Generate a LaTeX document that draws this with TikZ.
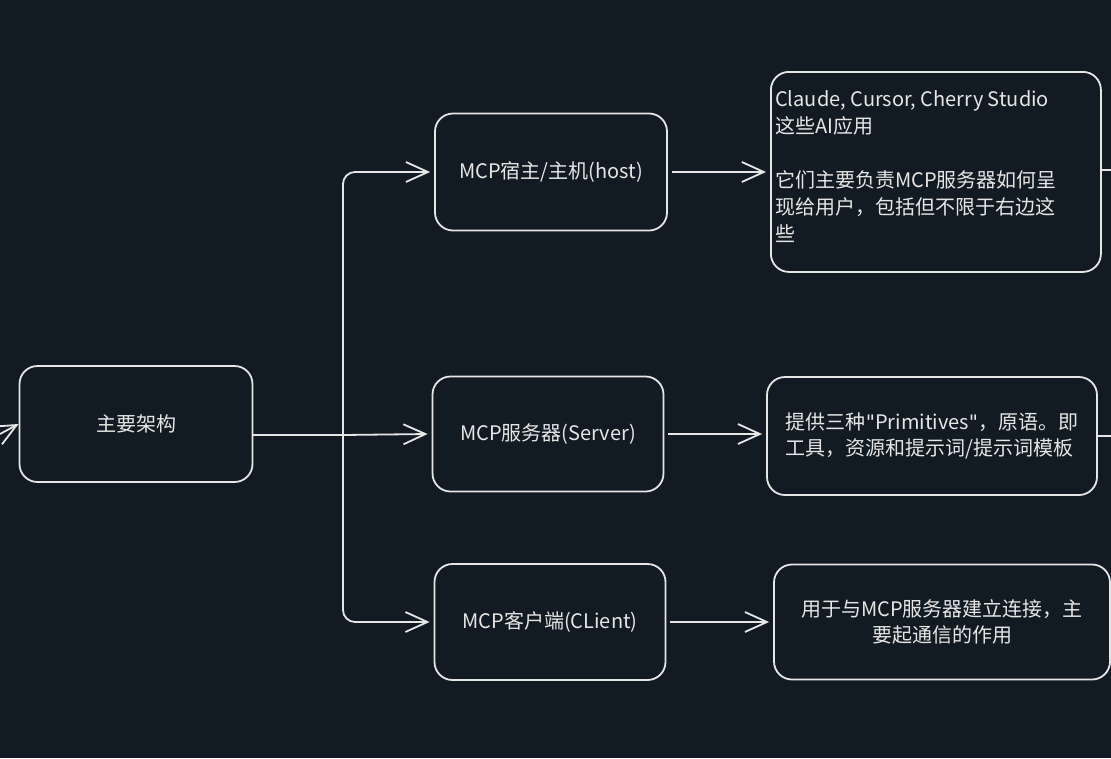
\documentclass[tikz,border=0pt]{standalone}
\usepackage{fontspec}
\setmainfont{Noto Sans CJK SC}
\newfontfamily\quotefont{DejaVu Sans}
\usetikzlibrary{arrows.meta}
\definecolor{bg}{HTML}{121B24}
\definecolor{ln}{HTML}{E6E6E6}
\tikzset{
  box/.style={draw=ln,line width=1.8pt,rounded corners=18pt,text=ln,font=\fontsize{20}{26}\selectfont},
  conn/.style={draw=ln,line width=1.8pt,-{Straight Barb[length=22pt,width=20pt,line width=1.8pt]}},
  plain/.style={draw=ln,line width=1.8pt}
}
\begin{document}
\begin{tikzpicture}[x=1pt,y=-1pt]
\fill[bg] (0,0) rectangle (1111,758);
\useasboundingbox (0,0) rectangle (1111,758);
\node[box,minimum width=233pt,minimum height=116pt] (main) at (136,424) {主要架构};
\node[box,minimum width=232pt,minimum height=117pt] (host) at (551,172) {MCP宿主/主机(host)};
\node[box,minimum width=231pt,minimum height=115pt] (srv) at (548,434) {MCP服务器(Server)};
\node[box,minimum width=231pt,minimum height=116pt] (cli) at (550,622) {MCP客户端(CLient)};
\node[box,minimum width=330pt,minimum height=200pt,anchor=north west,inner sep=0pt] (t1) at (770,71) {};
\node[text=ln,font=\fontsize{20}{27}\selectfont,align=left,anchor=north west,inner sep=0pt] (t1txt) at (775,90) {Claude, Cursor, Cherry Studio\\这些AI应用\\[27pt]它们主要负责MCP服务器如何呈\\现给用户，包括但不限于右边这\\些};
\node[box,minimum width=330pt,minimum height=118pt,align=left,inner sep=2pt] (t2) at (932,436) {提供三种{\quotefont\symbol{34}}Primitives{\quotefont\symbol{34}}，原语。即\\工具，资源和提示词/提示词模板};
\node[box,minimum width=336pt,minimum height=115pt,align=center] (t3) at (942,622) {用于与MCP服务器建立连接，主\\要起通信的作用};
\coordinate (lin) at (0,434);
\coordinate (j) at (343,435);
\coordinate (r1) at (1111,170);
\coordinate (r2) at (1111,436);
\coordinate (r3) at (1111,620);
\draw[conn] (lin) -- (main.west);
\draw[plain] (main.east |- j) -- (j);
\draw[conn,rounded corners=12pt] (j) -- (j |- host) -- ([xshift=-4pt]host.west);
\draw[conn] (j) -- ([xshift=-4pt]srv.west);
\draw[conn,rounded corners=12pt] (j) -- (j |- cli) -- ([xshift=-4pt]cli.west);
\draw[conn] ([xshift=4pt]host.east) -- ([xshift=-4pt]t1.west |- host);
\draw[conn] ([xshift=4pt]srv.east) -- ([xshift=-4pt]t2.west |- srv);
\draw[conn] ([xshift=4pt]cli.east) -- ([xshift=-4pt]t3.west |- cli);
\draw[plain] (t1.east |- r1) -- (r1);
\draw[plain] (t2.east |- r2) -- (r2);
\draw[plain] (t3.east |- r3) -- (r3);
\end{tikzpicture}
\end{document}
